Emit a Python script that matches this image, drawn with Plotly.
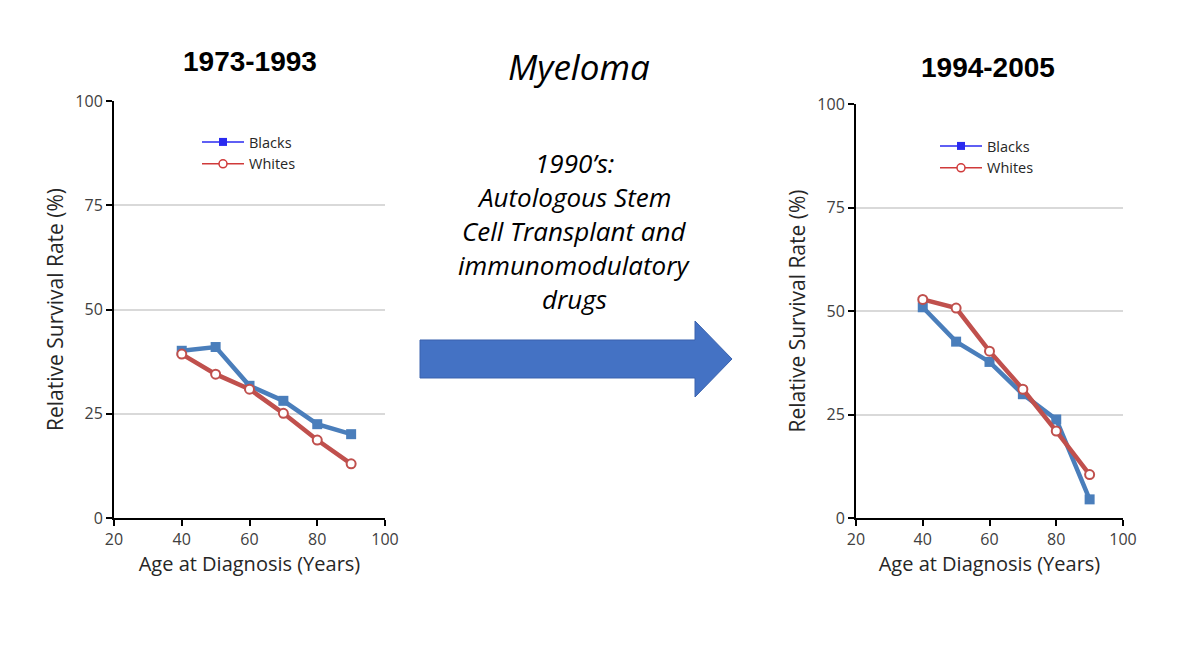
import plotly.graph_objects as go

W, H = 1200, 648

ages = [40, 50, 60, 70, 80, 90]
blacks_1973 = [40.1, 41.0, 31.7, 28.1, 22.5, 20.1]
whites_1973 = [39.3, 34.5, 30.9, 25.1, 18.7, 13.0]
blacks_1994 = [50.9, 42.6, 37.7, 29.9, 23.8, 4.5]
whites_1994 = [52.8, 50.7, 40.3, 31.1, 21.0, 10.5]

panel_titles = ["1973-1993", "1994-2005"]
series_names = ["Blacks", "Whites"]
x_ticks = [20, 40, 60, 80, 100]
y_ticks = [0, 25, 50, 75, 100]
center_lines = ["1990’s:", "Autologous Stem", "Cell Transplant and", "immunomodulatory", "drugs"]

BLUE = "#4A7EBB"
RED = "#C0504D"
LEG_BLUE = "#2A2AF0"
LEG_RED = "#D03A3A"
FONT = "Open Sans, Liberation Sans, sans-serif"

def px(x):
    return x / W

def py(y):
    return 1 - y / H

fig = go.Figure()

panels = [
    ("x", "y", "legend", blacks_1973, whites_1973),
    ("x2", "y2", "legend2", blacks_1994, whites_1994),
]
for xa, ya, leg, b, w in panels:
    fig.add_trace(go.Scatter(
        x=ages, y=b, xaxis=xa, yaxis=ya, mode="lines+markers", showlegend=False,
        line=dict(color=BLUE, width=4.5),
        marker=dict(symbol="square", size=10, color=BLUE),
    ))
    fig.add_trace(go.Scatter(
        x=ages, y=w, xaxis=xa, yaxis=ya, mode="lines+markers", showlegend=False,
        line=dict(color=RED, width=4.5),
        marker=dict(symbol="circle", size=9, color="white", line=dict(color=RED, width=2)),
    ))
    # legend entries (thin lines as in the original legend)
    fig.add_trace(go.Scatter(
        x=[None], y=[None], xaxis=xa, yaxis=ya, mode="lines+markers", name=series_names[0],
        legend=leg, line=dict(color=LEG_BLUE, width=1.5),
        marker=dict(symbol="square", size=8, color=LEG_BLUE),
    ))
    fig.add_trace(go.Scatter(
        x=[None], y=[None], xaxis=xa, yaxis=ya, mode="lines+markers", name=series_names[1],
        legend=leg, line=dict(color=LEG_RED, width=1.5),
        marker=dict(symbol="circle", size=8, color="white", line=dict(color=LEG_RED, width=1.5)),
    ))

axis_common = dict(
    showline=True, linecolor="black", linewidth=2,
    ticks="outside", ticklen=6, tickwidth=1.5, tickcolor="black",
    tickfont=dict(family=FONT, size=16, color="#404040"),
    zeroline=False, automargin=False,
)
xaxis_common = dict(axis_common, range=[20, 100], tickvals=x_ticks, showgrid=False,
                    title=dict(text="Age at Diagnosis (Years)",
                               font=dict(family=FONT, size=20, color="#262626"), standoff=8))
yaxis_common = dict(axis_common, range=[0, 100], tickvals=y_ticks, showgrid=True,
                    gridcolor="#D9D9D9", gridwidth=1.5,
                    title=dict(text="Relative Survival Rate (%)",
                               font=dict(family=FONT, size=21, color="#262626"), standoff=6))

fig.update_layout(
    width=W, height=H,
    margin=dict(l=0, r=0, t=0, b=0),
    paper_bgcolor="white", plot_bgcolor="white",
    xaxis=dict(xaxis_common, domain=[px(114), px(385)], anchor="y"),
    yaxis=dict(yaxis_common, domain=[py(518), py(101)], anchor="x"),
    xaxis2=dict(xaxis_common, domain=[px(856), px(1123)], anchor="y2"),
    yaxis2=dict(yaxis_common, domain=[py(518), py(104)], anchor="x2"),
    legend=dict(x=px(197), y=py(126), xanchor="left", yanchor="top",
                bgcolor="rgba(0,0,0,0)", font=dict(family=FONT, size=14.5, color="#262626"),
                tracegroupgap=0, itemwidth=42),
    legend2=dict(x=px(935), y=py(130), xanchor="left", yanchor="top",
                 bgcolor="rgba(0,0,0,0)", font=dict(family=FONT, size=14.5, color="#262626"),
                 tracegroupgap=0, itemwidth=42),
    showlegend=True,
)

annotations = [
    dict(text="<b>" + panel_titles[0] + "</b>", x=px(250), y=py(62)),
    dict(text="<b>" + panel_titles[1] + "</b>", x=px(988), y=py(67)),
]
for a in annotations:
    a.update(xref="paper", yref="paper", showarrow=False, xanchor="center", yanchor="middle",
             font=dict(family="Liberation Sans, Arial, sans-serif", size=28, color="black"))
annotations.append(dict(
    text="<i>Myeloma</i>", x=px(579), y=py(66), xref="paper", yref="paper", showarrow=False,
    xanchor="center", yanchor="middle", font=dict(family=FONT, size=35, color="black")))
for i, line in enumerate(center_lines):
    annotations.append(dict(
        text="<i>" + line + "</i>", x=px(574), y=py(163 + 34 * i), xref="paper", yref="paper",
        showarrow=False, xanchor="center", yanchor="middle",
        font=dict(family=FONT, size=26, color="black")))
fig.update_layout(annotations=annotations)

# Big arrow between the panels
pts = [(420, 340), (695, 340), (695, 321), (732, 359), (695, 397), (695, 378), (420, 378)]
path = "M " + " L ".join(f"{px(x):.5f},{py(y):.5f}" for x, y in pts) + " Z"
fig.add_shape(type="path", path=path, xref="paper", yref="paper",
              fillcolor="#4472C4", line=dict(color="#3A62AE", width=1))

fig.write_html("out.html")
